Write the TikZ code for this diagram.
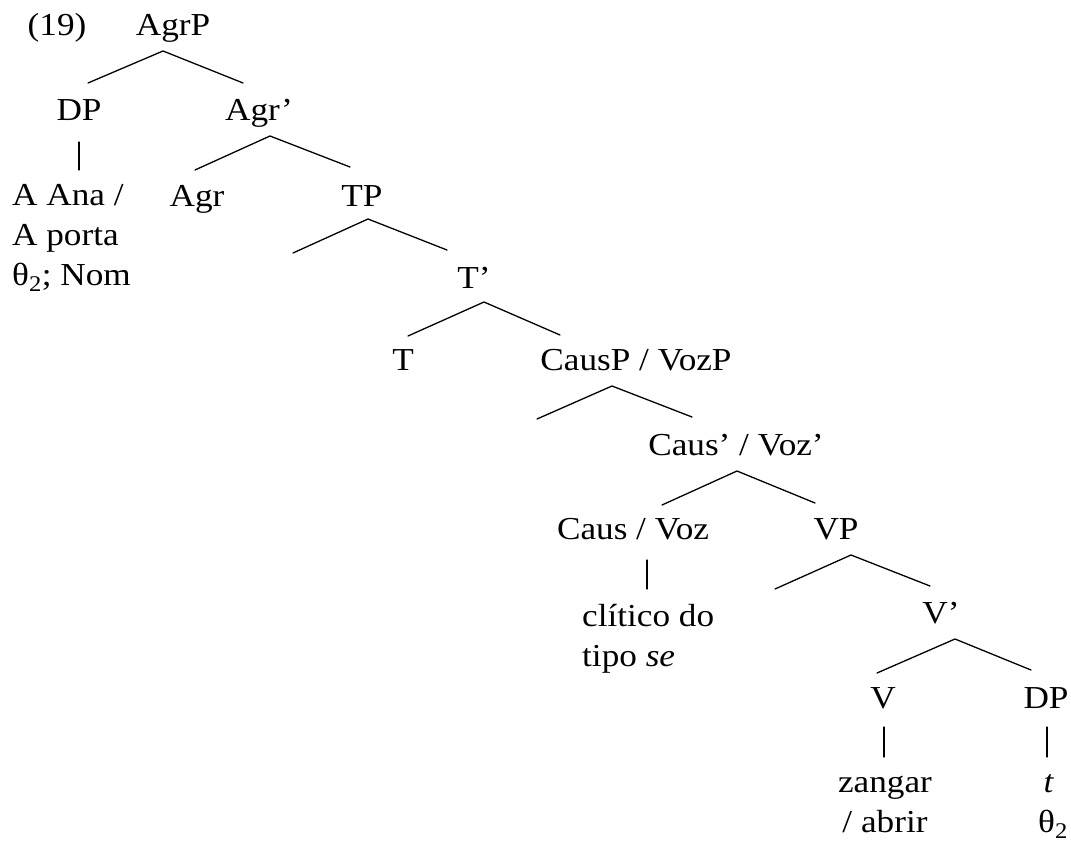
\documentclass[tikz,border=0pt]{standalone}
\usepackage{fontspec}
\setmainfont{Liberation Serif}[FakeStretch=1.1]
\begin{document}
\begin{tikzpicture}[x=1pt,y=-1pt,
  lbl/.style={anchor=base,inner sep=0pt,font=\fontsize{32}{40}\selectfont},
  lblw/.style={lbl,anchor=base west,align=left},
  lblc/.style={lbl,align=center},
  br/.style={line width=1.3pt,line cap=round,line join=miter}]
\path[use as bounding box] (0,0) rectangle (1071,843);

% labels (multi-line labels are placed by the baseline of their last line)
\node[lbl] (ex)    at (57,36)  {(19)};
\node[lbl] (agrp)  at (173,36) {AgrP};
\node[lbl] (dp)    at (79,121) {DP};
\node[lbl] (agr1)  at (259,121) {Agr’};
\node[lblw] (ana)  at (12,285) {A Ana /\\A porta\\θ\textsubscript{2}; Nom};
\node[lbl] (agr)   at (197,206) {Agr};
\node[lbl] (tp)    at (362,206) {TP};
\node[lbl] (t1)    at (474,288) {T’};
\node[lbl] (t)     at (403,370) {T};
\node[lbl] (causp) at (636,370) {CausP / VozP};
\node[lbl] (caus1) at (736,455) {Caus’ / Voz’};
\node[lbl] (caus)  at (633,539) {Caus / Voz};
\node[lbl] (vp)    at (836,539) {VP};
\node[lblw] (se)   at (582,666) {clítico do\\tipo \textit{se}};
\node[lbl] (v1)    at (941,623) {V’};
\node[lbl] (v)     at (883,708) {V};
\node[lbl] (dpo)   at (1046,708) {DP};
\node[lblc] (verb) at (885,832) {zangar\\/ abrir};
\node[lblw] (tr)   at (1038,832) {\,\textit{t}\\θ\textsubscript{2}};

% branch points and branch ends
\coordinate (agrp-b)  at (163,51);
\coordinate (dp-t)    at (88,83);
\coordinate (agr1-t)  at (243,83);
\coordinate (agr1-b)  at (270,136);
\coordinate (agr-t)   at (195,170);
\coordinate (tp-t)    at (350,167);
\coordinate (tp-b)    at (368,219);
\coordinate (tp-spec) at (293,253);
\coordinate (t1-t)    at (447,250);
\coordinate (t1-b)    at (484,302);
\coordinate (t-t)     at (408,336);
\coordinate (causp-t) at (560,335);
\coordinate (causp-b) at (612,386);
\coordinate (causp-spec) at (537,419);
\coordinate (caus1-t) at (692,417);
\coordinate (caus1-b) at (737,471);
\coordinate (caus-t)  at (662,505);
\coordinate (vp-t)    at (815,503);
\coordinate (vp-b)    at (851,555);
\coordinate (vp-spec) at (775,589);
\coordinate (v1-t)    at (930,586);
\coordinate (v1-b)    at (955,639);
\coordinate (v-t)     at (877,673);
\coordinate (dpo-t)   at (1031,670);

% unary branches
\coordinate (dp-b)    at (79,142);
\coordinate (ana-t)   at (79,170);
\coordinate (caus-b)  at (647,560);
\coordinate (se-t)    at (647,589);
\coordinate (v-b)     at (884,727);
\coordinate (verb-t)  at (884,757);
\coordinate (dpo-b)   at (1047,727);
\coordinate (tr-t)    at (1047,757);

\draw[br] (dp-t) -- (agrp-b) -- (agr1-t);
\draw[br] (agr-t) -- (agr1-b) -- (tp-t);
\draw[br] (tp-spec) -- (tp-b) -- (t1-t);
\draw[br] (t-t) -- (t1-b) -- (causp-t);
\draw[br] (causp-spec) -- (causp-b) -- (caus1-t);
\draw[br] (caus-t) -- (caus1-b) -- (vp-t);
\draw[br] (vp-spec) -- (vp-b) -- (v1-t);
\draw[br] (v-t) -- (v1-b) -- (dpo-t);

\draw[br] (dp-b) -- (ana-t);
\draw[br] (caus-b) -- (se-t);
\draw[br] (v-b) -- (verb-t);
\draw[br] (dpo-b) -- (tr-t);
\end{tikzpicture}
\end{document}
